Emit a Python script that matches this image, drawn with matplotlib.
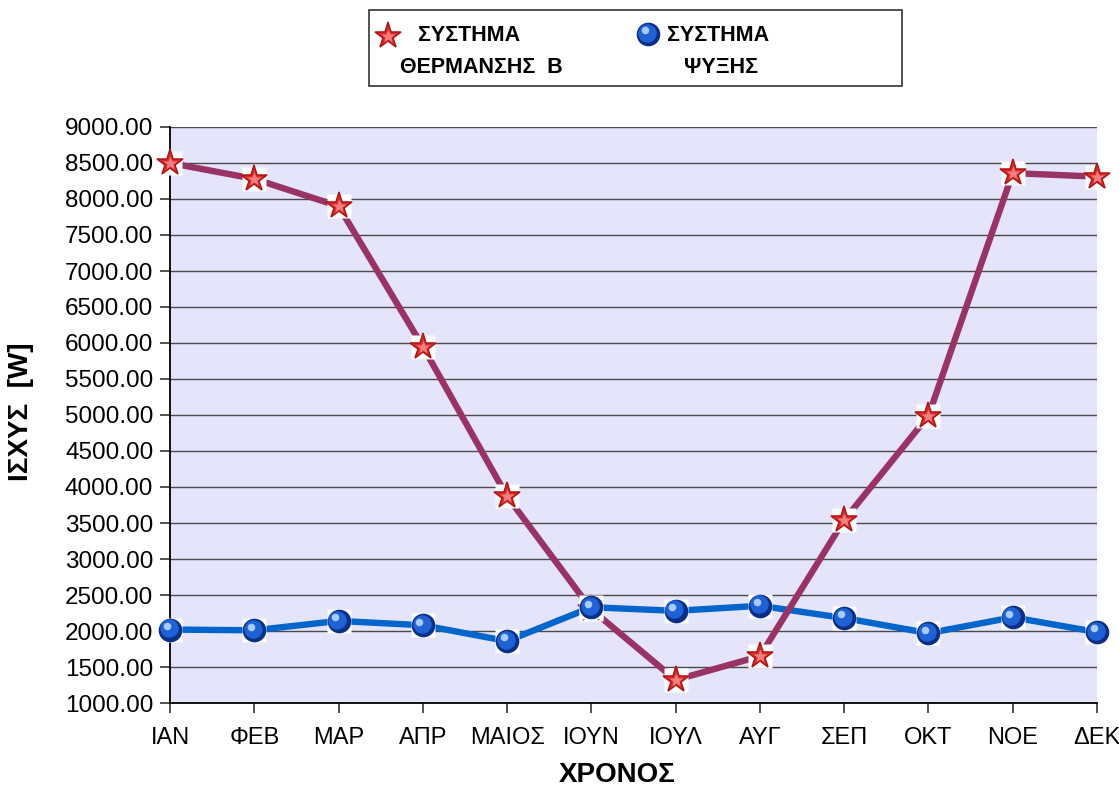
import matplotlib
matplotlib.use("Agg")
import matplotlib.pyplot as plt
from matplotlib.patches import Rectangle
from matplotlib.ticker import MultipleLocator, FormatStrFormatter
from matplotlib.transforms import offset_copy

plt.rcParams['font.family'] = ['Liberation Sans', 'DejaVu Sans']

months = ["ΙΑΝ", "ΦΕΒ", "ΜΑΡ", "ΑΠΡ", "ΜΑΙΟΣ", "ΙΟΥΝ",
          "ΙΟΥΛ", "ΑΥΓ", "ΣΕΠ", "ΟΚΤ", "ΝΟΕ", "ΔΕΚ"]
heating = [8500, 8280, 7900, 5950, 3870, 2300,
           1320, 1650, 3540, 4990, 8360, 8310]
cooling = [2020, 2010, 2140, 2080, 1860, 2330,
           2280, 2350, 2180, 1970, 2190, 1985]

HEAT_LINE = "#993366"
COOL_LINE = "#0066CC"


def star_marker(ax, x, y, ms=20, zorder=5):
    # white backing square + red star with darker rim
    kw = dict(ls="none", clip_on=False, zorder=zorder)
    ax.plot(x, y, marker="s", ms=ms * 0.85, mfc="white", mec="none", **kw)
    ax.plot(x, y, marker="*", ms=ms, mfc="#E22A2A", mec="#B01414", mew=1.1, **kw)
    ax.plot(x, y, marker="*", ms=ms * 0.5, mfc="#F08080", mec="none", **kw)


def ball_marker(ax, x, y, ms=17, zorder=6):
    # white backing square + shaded blue sphere, highlight shifted up-left
    fig = ax.figure
    kw = dict(ls="none", clip_on=False, zorder=zorder)
    ax.plot(x, y, marker="s", ms=ms * 1.02, mfc="white", mec="none", **kw)
    ax.plot(x, y, marker="o", ms=ms, mfc="#0A2F86", mec="none", **kw)
    mid = offset_copy(ax.transData, fig=fig, x=-0.9, y=1.0, units="points")
    ax.plot(x, y, marker="o", ms=ms * 0.78, mfc="#1F62D6", mec="none", transform=mid, **kw)
    hi = offset_copy(ax.transData, fig=fig, x=-2.4, y=2.6, units="points")
    ax.plot(x, y, marker="o", ms=ms * 0.32, mfc="#A8CBFF", mec="none", transform=hi, **kw)


fig = plt.figure(figsize=(11.19, 7.89), dpi=100)
ax = fig.add_axes([170 / 1119, 1 - 703 / 789, 927 / 1119, 576 / 789])
ax.set_facecolor("#E4E4FA")

xs = list(range(len(months)))
ax.plot(xs, cooling, color=COOL_LINE, lw=4.6, zorder=3)
ax.plot(xs, heating, color=HEAT_LINE, lw=4.6, zorder=4)
star_marker(ax, xs, heating, zorder=5)
ball_marker(ax, xs, cooling, zorder=6)

ax.set_xlim(0, len(months) - 1)
ax.set_ylim(1000, 9000)
ax.yaxis.set_major_locator(MultipleLocator(500))
ax.yaxis.set_major_formatter(FormatStrFormatter("%.2f"))
ax.set_xticks(xs)
ax.set_xticklabels(months)
ax.grid(axis="y", color="#4A4A4A", lw=1.0, zorder=1)
ax.set_axisbelow(True)

for side in ("top", "right"):
    ax.spines[side].set_visible(False)
for side in ("left", "bottom"):
    ax.spines[side].set_linewidth(1.3)
    ax.spines[side].set_color("black")

ax.tick_params(axis="y", length=7, width=1.2, color="#333333", pad=5, labelsize=17.5)
ax.tick_params(axis="x", length=7, width=1.2, color="#333333", pad=10, labelsize=17)

ax.set_xlabel("ΧΡΟΝΟΣ", fontsize=20, fontweight="bold")
ax.xaxis.set_label_coords((617 - 170) / 927, (703 - 762) / 576)
ax.set_ylabel("ΙΣΧΥΣ  [W]", fontsize=20, fontweight="bold")
ax.yaxis.set_label_coords((34 - 170) / 927, (703 - 412) / 576)

# legend drawn by hand on an overlay in pixel coordinates: two entries, two-line labels
lax = fig.add_axes([0, 0, 1, 1], facecolor="none")
lax.set_xlim(0, 1119)
lax.set_ylim(789, 0)
lax.axis("off")
lax.add_patch(Rectangle((369, 10), 533, 76, facecolor="white",
                        edgecolor="#333333", lw=1.2, zorder=1))
star_marker(lax, [388], [36], zorder=5)
ball_marker(lax, [648], [34], zorder=5)
leg_font = dict(fontsize=15.5, fontweight="bold", ha="center", va="center", zorder=5)
lax.text(469, 35, "ΣΥΣΤΗΜΑ", **leg_font)
lax.text(481, 67, "ΘΕΡΜΑΝΣΗΣ  Β", **leg_font)
lax.text(718, 35, "ΣΥΣΤΗΜΑ", **leg_font)
lax.text(721, 67, "ΨΥΞΗΣ", **leg_font)

fig.savefig("out.png", dpi=100, facecolor="white")
